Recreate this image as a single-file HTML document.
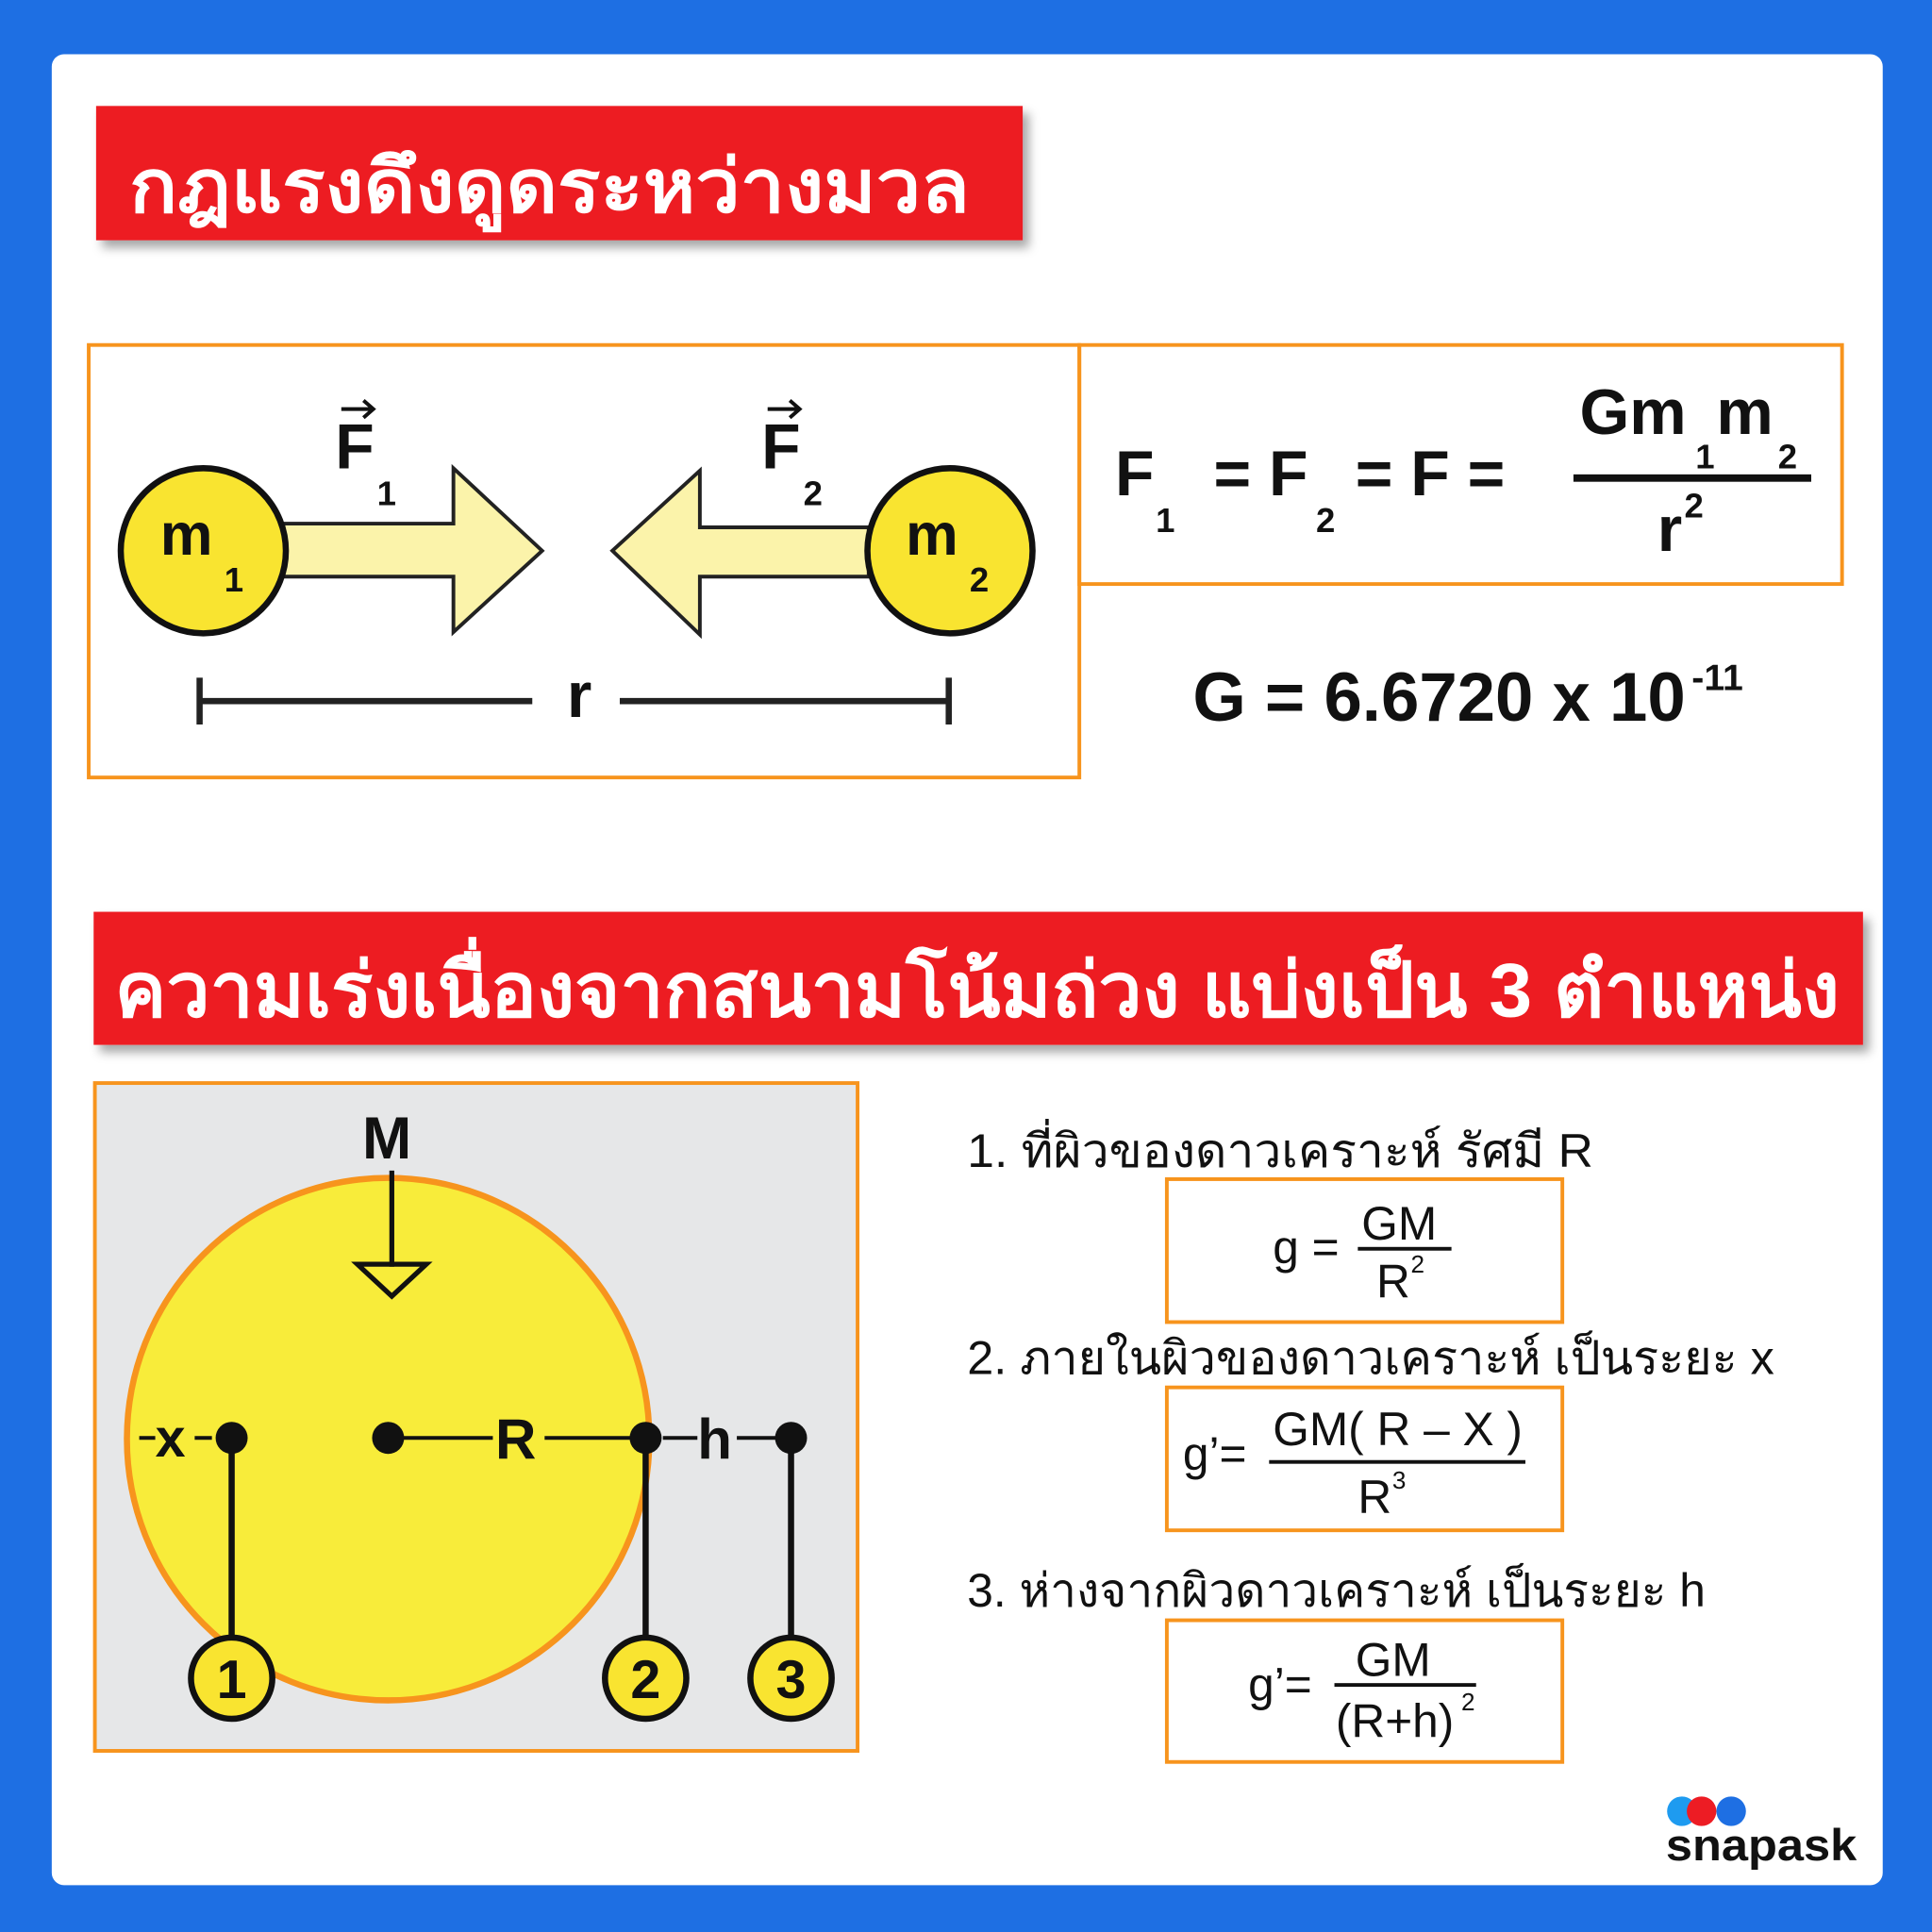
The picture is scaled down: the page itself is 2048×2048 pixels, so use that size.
<!DOCTYPE html>
<html><head><meta charset="utf-8"><style>
html,body{margin:0;padding:0;background:#1E6FE3}
svg{display:block}
text{font-family:"Liberation Sans","Noto Sans CJK SC",sans-serif;font-weight:bold;fill:#111}
</style></head><body>
<svg width="2048" height="2048" viewBox="0 0 1568 1568" xmlns="http://www.w3.org/2000/svg">
<defs>
<filter id="sh" x="-5%" y="-20%" width="115%" height="150%"><feDropShadow dx="5" dy="6" stdDeviation="4" flood-color="#000" flood-opacity="0.35"/></filter>
</defs>
<rect width="1568" height="1568" fill="#1E6FE3"/>
<rect x="42" y="44" width="1486" height="1486" rx="10" fill="#fff"/>
<!-- title 1 -->
<rect x="78" y="86" width="752" height="109" fill="#ED1C24" filter="url(#sh)"/>
<text x="105" y="172" font-size="60" style="fill:#fff" textLength="682" lengthAdjust="spacingAndGlyphs">กฎแรงดึงดูดระหว่างมวล</text>
<!-- boxes -->
<rect x="72" y="280" width="804" height="351" fill="none" stroke="#F7941D" stroke-width="3"/>
<rect x="876" y="280" width="619" height="194" fill="none" stroke="#F7941D" stroke-width="3"/>
<!-- arrows -->
<polygon points="230,425 368,425 368,380 440,447 368,513 368,468 230,468" fill="#FBF3AA" stroke="#222" stroke-width="3"/>
<polygon points="705,428 568,428 568,382 497,447 568,515 568,468 705,468" fill="#FBF3AA" stroke="#222" stroke-width="3"/>
<circle cx="165" cy="447" r="67" fill="#F9E430" stroke="#111" stroke-width="5"/>
<circle cx="771" cy="447" r="67" fill="#F9E430" stroke="#111" stroke-width="5"/>
<text x="130" y="450" font-size="48">m</text><text x="182" y="480" font-size="28">1</text>
<text x="735" y="450" font-size="48">m</text><text x="787" y="480" font-size="28">2</text>
<text x="272" y="380" font-size="52">F</text><text x="306" y="410" font-size="28">1</text>
<path d="M277 332 H302 M295 325 L303 332 L295 339" stroke="#111" stroke-width="3" fill="none"/>
<text x="618" y="380" font-size="52">F</text><text x="652" y="410" font-size="28">2</text>
<path d="M623 332 H648 M641 325 L649 332 L641 339" stroke="#111" stroke-width="3" fill="none"/>
<!-- r -->
<path d="M162 550 V588 M162 569 H432 M503 569 H770 M770 550 V588" stroke="#222" stroke-width="5" fill="none"/>
<text x="460" y="582" font-size="52">r</text>
<!-- formula -->
<text x="905" y="402" font-size="52">F</text><text x="938" y="432" font-size="28">1</text>
<text x="985" y="402" font-size="52">= F</text><text x="1068" y="432" font-size="28">2</text>
<text x="1100" y="402" font-size="52">= F =</text>
<text x="1282" y="352" font-size="52">Gm</text><text x="1376" y="380" font-size="28">1</text>
<text x="1393" y="352" font-size="52">m</text><text x="1443" y="380" font-size="28">2</text>
<rect x="1277" y="385" width="193" height="6" fill="#111"/>
<text x="1345" y="447" font-size="52">r</text><text x="1367" y="420" font-size="28">2</text>
<text x="968" y="585" font-size="56" textLength="400" lengthAdjust="spacingAndGlyphs">G = 6.6720 x 10</text><text x="1373" y="560" font-size="30">-11</text>
<!-- title 2 -->
<rect x="76" y="740" width="1436" height="108" fill="#ED1C24" filter="url(#sh)"/>
<text x="93" y="825" font-size="62" style="fill:#fff" textLength="1400" lengthAdjust="spacingAndGlyphs">ความเร่งเนื่องจากสนามโน้มถ่วง แบ่งเป็น 3 ตำแหน่ง</text>
<!-- diagram -->
<rect x="77" y="879" width="619" height="542" fill="#E6E7E8" stroke="#F7941D" stroke-width="3"/>
<circle cx="315" cy="1168" r="212" fill="#F8EC3A" stroke="#F7941D" stroke-width="5"/>
<text x="294" y="940" font-size="48">M</text>
<path d="M318 950 V1028" stroke="#111" stroke-width="4"/>
<polygon points="290,1026 346,1026 318,1052" fill="none" stroke="#111" stroke-width="4"/>
<path d="M113 1167 H126 M158 1167 H172 M315 1167 H400 M442 1167 H524 M538 1167 H566 M598 1167 H642" stroke="#111" stroke-width="3"/>
<text x="126" y="1182" font-size="44">x</text>
<text x="402" y="1184" font-size="46">R</text>
<text x="566" y="1184" font-size="46">h</text>
<path d="M188 1167 V1330 M524 1167 V1330 M642 1167 V1330" stroke="#111" stroke-width="5"/>
<circle cx="188" cy="1167" r="13" fill="#111"/><circle cx="315" cy="1167" r="13" fill="#111"/>
<circle cx="524" cy="1167" r="13" fill="#111"/><circle cx="642" cy="1167" r="13" fill="#111"/>
<circle cx="188" cy="1362" r="33" fill="#F9E430" stroke="#111" stroke-width="5"/><text x="188" y="1378" text-anchor="middle" font-size="44">1</text>
<circle cx="524" cy="1362" r="33" fill="#F9E430" stroke="#111" stroke-width="5"/><text x="524" y="1378" text-anchor="middle" font-size="44">2</text>
<circle cx="642" cy="1362" r="33" fill="#F9E430" stroke="#111" stroke-width="5"/><text x="642" y="1378" text-anchor="middle" font-size="44">3</text>
<!-- right list -->
<text x="785" y="947" font-size="38" style="font-weight:normal" textLength="508" lengthAdjust="spacingAndGlyphs">1. ที่ผิวของดาวเคราะห์ รัศมี R</text>
<rect x="947" y="957" width="321" height="116" fill="none" stroke="#F7941D" stroke-width="3"/>
<text x="1033" y="1025" font-size="38" style="font-weight:normal">g =</text>
<text x="1105" y="1006" font-size="38" style="font-weight:normal">GM</text>
<rect x="1102" y="1012" width="76" height="3" fill="#111"/>
<text x="1117" y="1053" font-size="38" style="font-weight:normal">R</text><text x="1145" y="1033" font-size="20" style="font-weight:normal">2</text>
<text x="785" y="1115" font-size="38" style="font-weight:normal" textLength="655" lengthAdjust="spacingAndGlyphs">2. ภายในผิวของดาวเคราะห์ เป็นระยะ x</text>
<rect x="947" y="1126" width="321" height="116" fill="none" stroke="#F7941D" stroke-width="3"/>
<text x="960" y="1193" font-size="38" style="font-weight:normal">g’=</text>
<text x="1033" y="1173" font-size="38" style="font-weight:normal">GM( R – X )</text>
<rect x="1030" y="1185" width="208" height="3" fill="#111"/>
<text x="1102" y="1228" font-size="38" style="font-weight:normal">R</text><text x="1130" y="1208" font-size="20" style="font-weight:normal">3</text>
<text x="785" y="1304" font-size="38" style="font-weight:normal">3. ห่างจากผิวดาวเคราะห์ เป็นระยะ h</text>
<rect x="947" y="1315" width="321" height="115" fill="none" stroke="#F7941D" stroke-width="3"/>
<text x="1013" y="1380" font-size="38" style="font-weight:normal">g’=</text>
<text x="1100" y="1360" font-size="38" style="font-weight:normal">GM</text>
<rect x="1083" y="1366" width="115" height="3" fill="#111"/>
<text x="1084" y="1410" font-size="38" style="font-weight:normal">(R+h)</text><text x="1186" y="1388" font-size="20" style="font-weight:normal">2</text>
<!-- logo -->
<circle cx="1365" cy="1470" r="12" fill="#1E9BF0"/>
<circle cx="1381" cy="1470" r="12" fill="#ED1C24"/>
<circle cx="1405" cy="1470" r="12" fill="#1E6FE3"/>
<text x="1352" y="1510" font-size="36" textLength="155" lengthAdjust="spacingAndGlyphs">snapask</text>
</svg>
</body></html>
